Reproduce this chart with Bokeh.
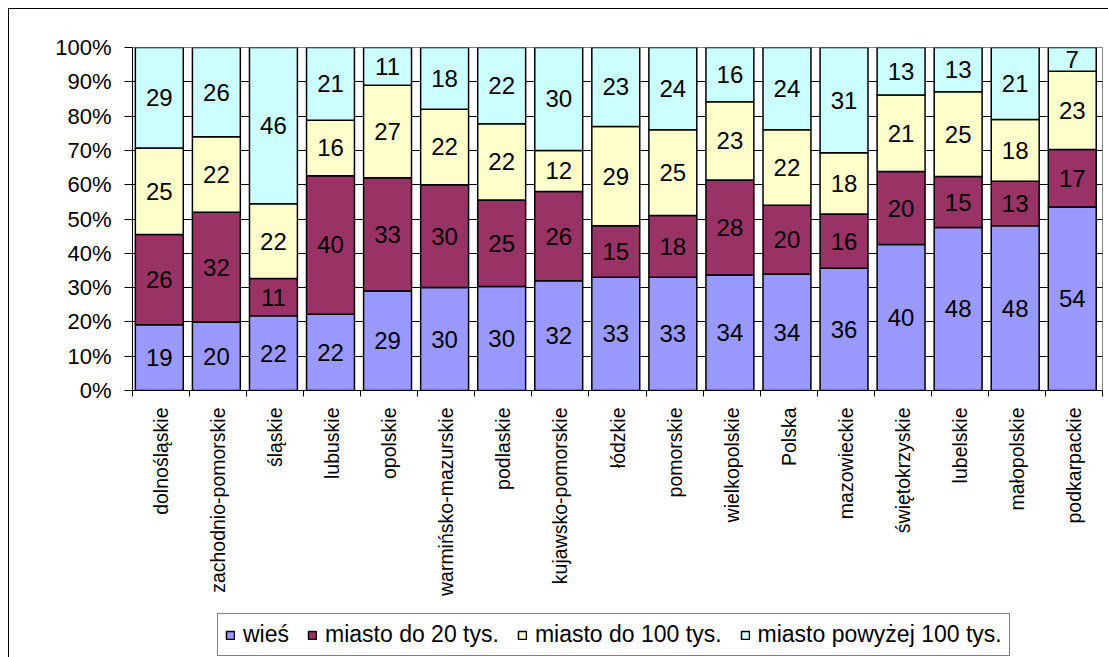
import math
from bokeh.plotting import figure
from bokeh.layouts import column
from bokeh.models import (ColumnDataSource, Range1d, FixedTicker, NumeralTickFormatter,
                          Legend, LegendItem)
from bokeh.core.properties import value
from bokeh.embed import file_html
from bokeh.resources import INLINE

categories = ["dolnośląskie", "zachodnio-pomorskie", "śląskie", "lubuskie", "opolskie",
              "warmińsko-mazurskie", "podlaskie", "kujawsko-pomorskie", "łódzkie", "pomorskie",
              "wielkopolskie", "Polska", "mazowieckie", "świętokrzyskie", "lubelskie",
              "małopolskie", "podkarpackie"]
wies = [19, 20, 22, 22, 29, 30, 30, 32, 33, 33, 34, 34, 36, 40, 48, 48, 54]
miasto20 = [26, 32, 11, 40, 33, 30, 25, 26, 15, 18, 28, 20, 16, 20, 15, 13, 17]
miasto100 = [25, 22, 22, 16, 27, 22, 22, 12, 29, 25, 23, 22, 18, 21, 25, 18, 23]
miasto100p = [29, 26, 46, 21, 11, 18, 22, 30, 23, 24, 16, 24, 31, 13, 13, 21, 7]

series_names = ["wieś", "miasto do 20 tys.", "miasto do 100 tys.", "miasto powyżej 100 tys."]
series_vals = [wies, miasto20, miasto100, miasto100p]
colors = ["#9999FF", "#993366", "#FFFFCC", "#CCFFFF"]
y_ticks = [0, 0.1, 0.2, 0.3, 0.4, 0.5, 0.6, 0.7, 0.8, 0.9, 1.0]

FONT = "Liberation Sans"
n = len(categories)
xs = [i + 0.47 for i in range(n)]
totals = [sum(s[i] for s in series_vals) for i in range(n)]
keys = ["s0", "s1", "s2", "s3"]
data = {"x": xs}
for k, s in zip(keys, series_vals):
    data[k] = [s[i] / totals[i] for i in range(n)]
src = ColumnDataSource(data)

p = figure(frame_width=970, frame_height=343, min_border_left=124, min_border_right=6,
           min_border_top=39, min_border_bottom=218,
           x_range=Range1d(0, n), y_range=Range1d(0, 1),
           output_backend="svg", toolbar_location=None)
p.border_fill_color = None
p.background_fill_color = "white"
p.outline_line_color = "#808080"
p.outline_line_width = 1

renderers = p.vbar_stack(keys, x="x", width=0.84, source=src, fill_color=colors,
                         line_color="black", line_width=1.5)

# labels
lx, ly, lt = [], [], []
for i in range(n):
    cum = 0.0
    for k, s in zip(keys, series_vals):
        frac = data[k][i]
        lx.append(xs[i])
        ly.append(cum + frac / 2)
        lt.append(str(s[i]))
        cum += frac
p.text(x=lx, y=ly, text=lt, text_align="center", text_baseline="middle",
       text_font=value(FONT), text_font_size="24px", text_color="black")

# axes
p.xaxis.ticker = FixedTicker(ticks=[i + 0.5 for i in range(n)], minor_ticks=list(range(n + 1)))
p.xaxis.major_label_overrides = {i + 0.5: c for i, c in enumerate(categories)}
p.xaxis.major_label_orientation = math.pi / 2
p.xaxis.major_tick_line_color = None
p.xaxis.major_tick_out = 0
p.xaxis.major_tick_in = 0
p.xaxis.minor_tick_out = 6
p.xaxis.minor_tick_in = 0
p.xaxis.minor_tick_line_color = "black"
p.xaxis.major_label_standoff = 11
p.xaxis.major_label_text_font = FONT
p.xaxis.major_label_text_font_size = "19.5px"
p.xaxis.major_label_text_color = "black"
p.xaxis.axis_line_color = "black"

p.yaxis.ticker = FixedTicker(ticks=y_ticks)
p.yaxis.formatter = NumeralTickFormatter(format="0%")
p.yaxis.major_tick_out = 8
p.yaxis.major_tick_in = 0
p.yaxis.minor_tick_line_color = None
p.yaxis.major_label_standoff = 13
p.yaxis.major_label_text_font = FONT
p.yaxis.major_label_text_font_size = "22px"
p.yaxis.major_label_text_color = "black"
p.yaxis.axis_line_color = "black"
p.yaxis.major_tick_line_color = "black"

p.xgrid.grid_line_color = None
p.ygrid.grid_line_color = "black"
p.ygrid.grid_line_width = 1

# legend strip (separate figure so that the legend is not clipped)
pl = figure(width=1100, height=49, min_border=0, x_range=Range1d(0, 1), y_range=Range1d(0, 1),
            x_axis_location=None, y_axis_location=None,
            output_backend="svg", toolbar_location=None)
pl.border_fill_color = None
pl.background_fill_color = None
pl.outline_line_color = None
pl.grid.grid_line_color = None
leg_src = ColumnDataSource({"x": [float("nan")], "top": [float("nan")]})
leg_rs = [pl.vbar(x="x", top="top", width=0.1, source=leg_src, fill_color=c,
                  line_color="black", line_width=1.5) for c in colors]
legend = Legend(items=[LegendItem(label=nm, renderers=[r]) for nm, r in zip(series_names, leg_rs)],
                orientation="horizontal", location=(85, 1), margin=0,
                label_text_font=FONT, label_text_font_size="23px", label_text_color="black",
                glyph_width=10, glyph_height=10, label_standoff=8, spacing=18, padding=7,
                border_line_color="black", border_line_width=1, background_fill_alpha=1)
pl.add_layout(legend, "center")

layout = column(p, pl, spacing=0)
layout.styles = {"margin-left": "8px", "margin-top": "8px",
                 "box-shadow": "inset 1px 1px 0 0 #000"}

open("out.html", "w").write(file_html(layout, INLINE))
